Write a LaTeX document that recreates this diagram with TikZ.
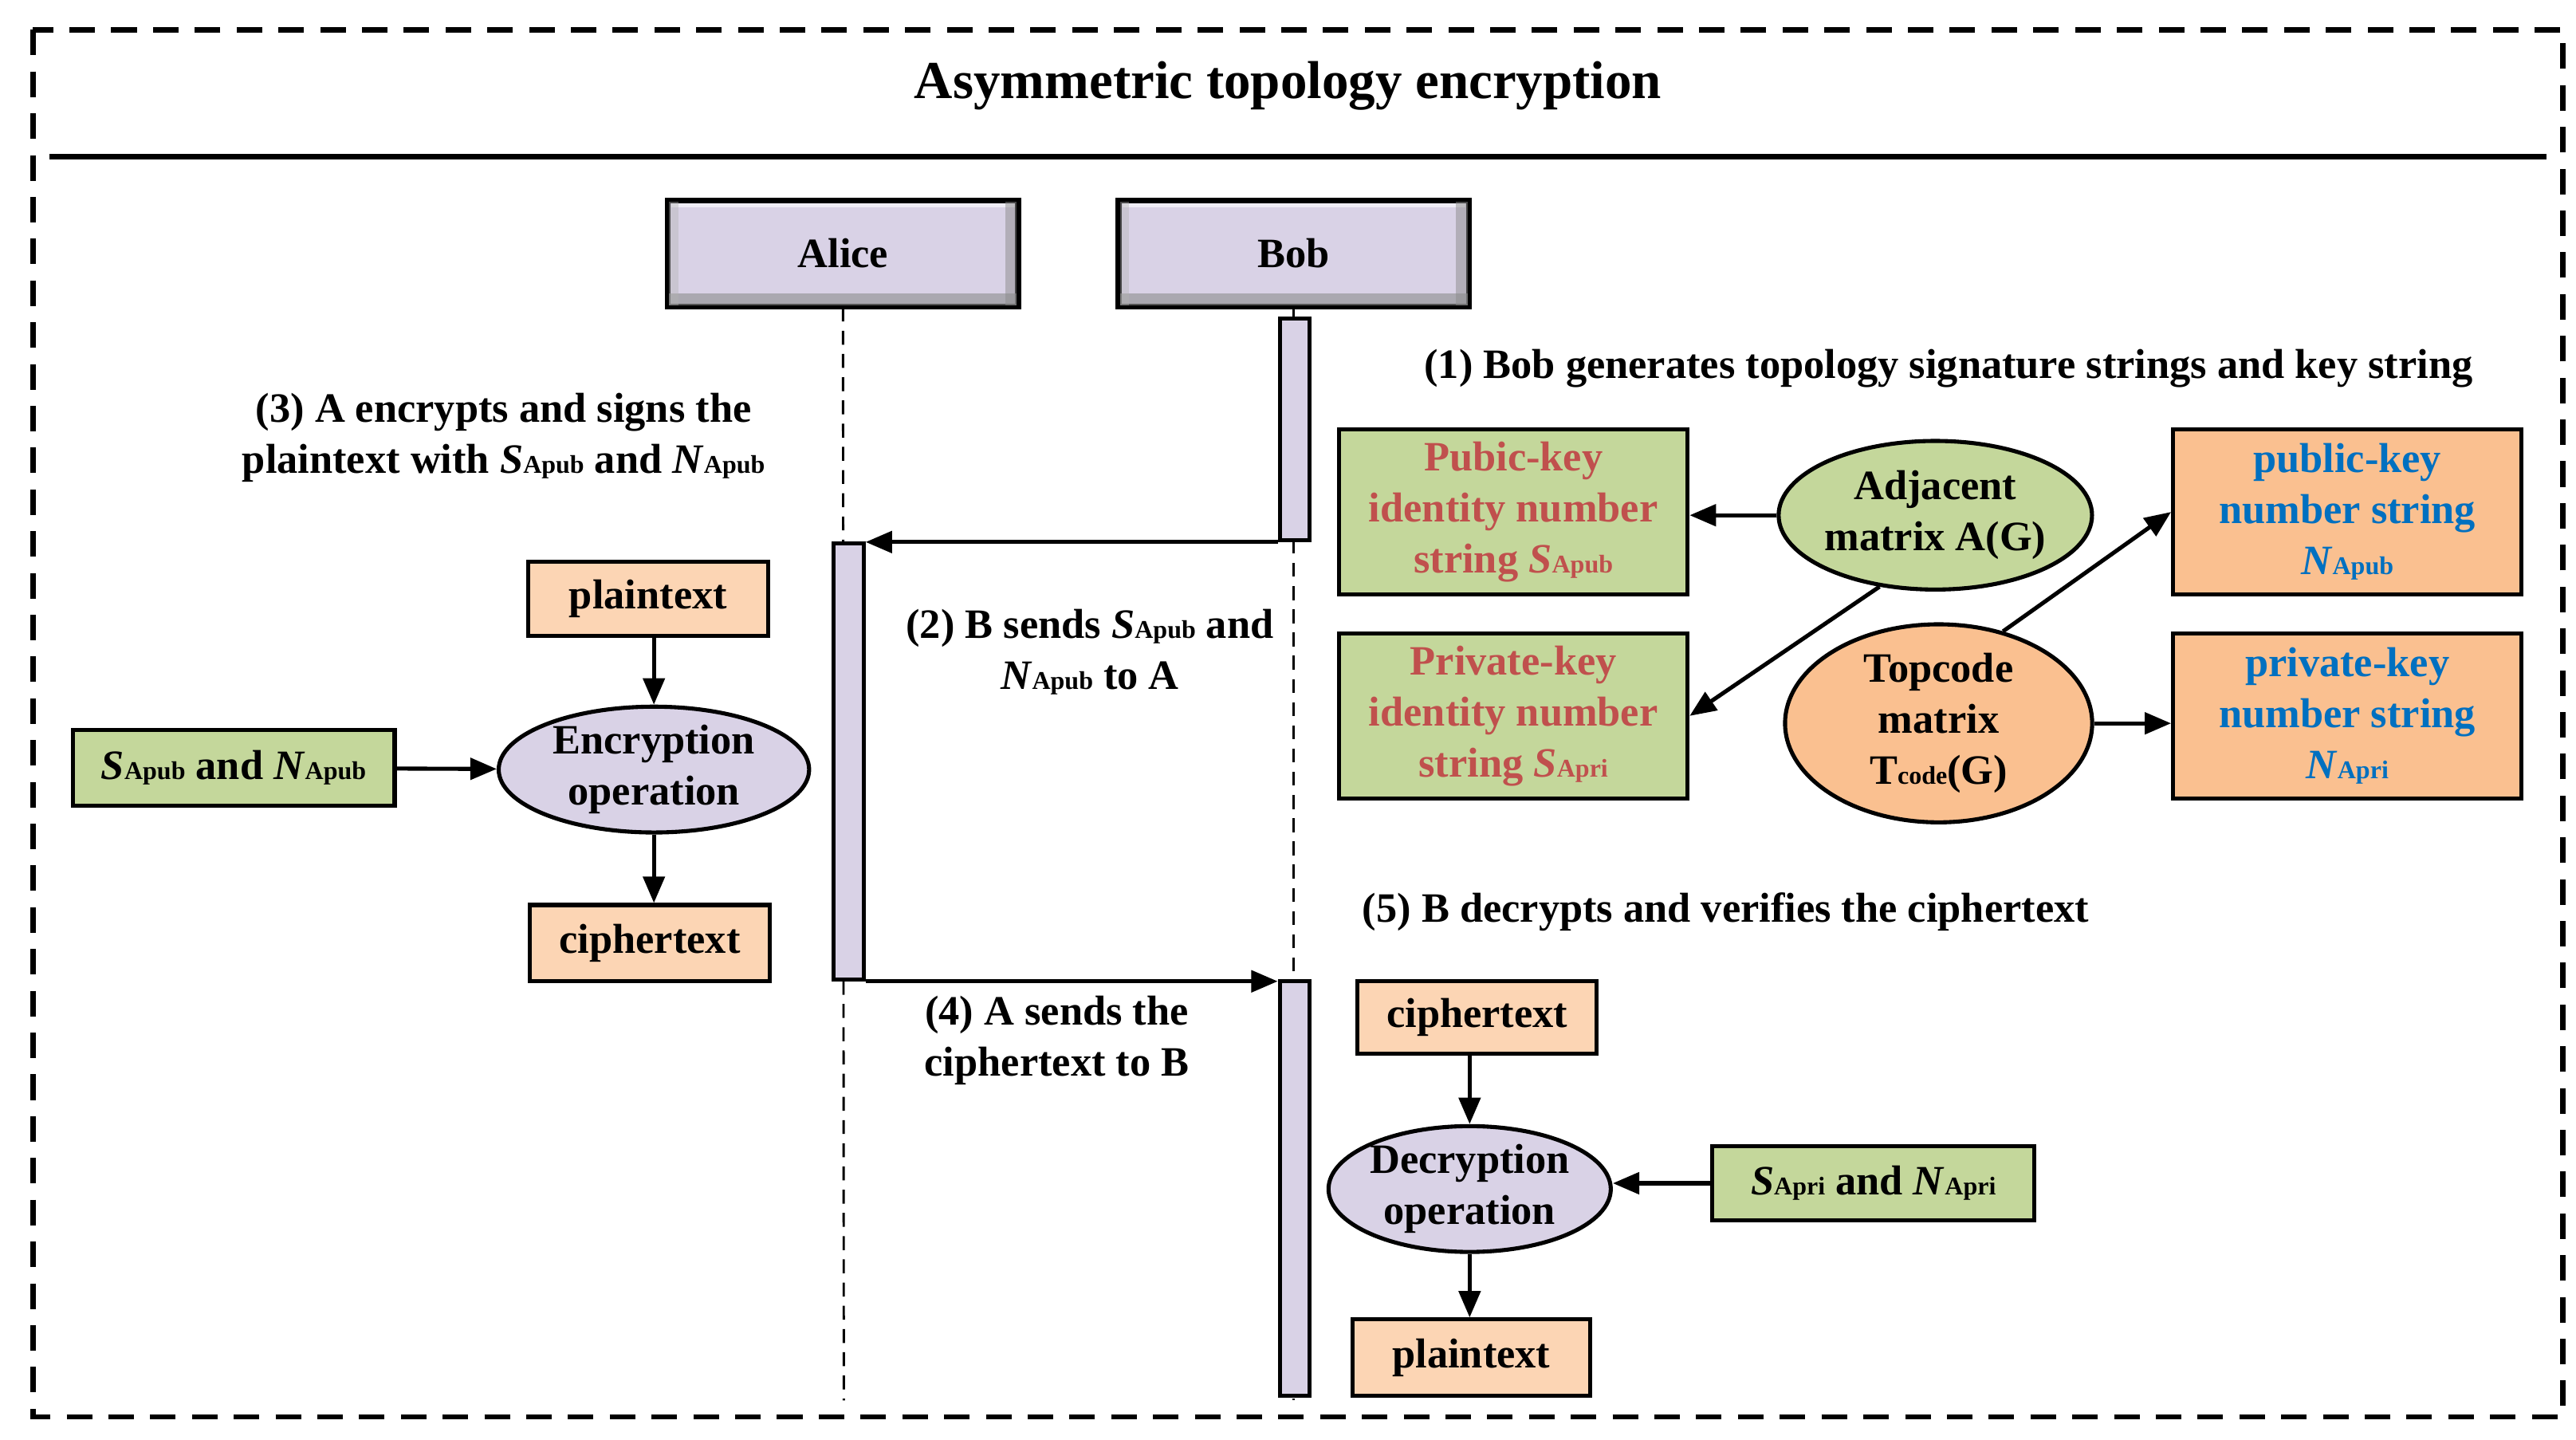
\documentclass[tikz,border=0pt]{standalone}
\usepackage{fontspec}
\setmainfont{Liberation Serif}
\usetikzlibrary{arrows.meta,shapes.geometric}
\definecolor{gr}{RGB}{196,215,155}
\definecolor{pe}{RGB}{252,213,180}
\definecolor{og}{RGB}{250,192,144}
\definecolor{lav}{RGB}{217,210,230}
\definecolor{rd}{RGB}{192,80,77}
\definecolor{bl}{RGB}{0,112,192}
\newcommand\sk[2]{\textit{#1}{\fontsize{22}{22}\selectfont #2}}
\begin{document}
\begin{tikzpicture}[x=0.05cm,y=-0.05cm,
  every node/.style={font=\fontsize{36}{44}\selectfont\bfseries, align=center, inner sep=0pt},
  box/.style={draw, line width=3.5pt, rectangle},
  gbox/.style={box, fill=gr},
  pbox/.style={box, fill=pe},
  obox/.style={box, fill=og},
  ell/.style={draw, line width=3.5pt, ellipse},
  actor/.style={draw, line width=3.5pt, fill=lav, minimum width=10.55cm, minimum height=3.15cm},
  bar/.style={draw, line width=3.5pt, fill=lav, minimum width=0.9cm},
  arr/.style={line width=3.5pt, -{Triangle[length=0.8cm,width=0.65cm]}},
  life/.style={line width=2pt, dash pattern=on 12pt off 8pt}]
\useasboundingbox (0,0) rectangle (1560,871.5);
\draw[line width=4.5pt, dash pattern=on 22pt off 14pt] (20,18) rectangle (1552,858);
\draw[line width=5pt] (30,95) -- (1542,95);
\node[font=\fontsize{46}{50}\selectfont\bfseries] (title) at (780,52) {Asymmetric topology encryption};
% actors
\node[actor] (alice) at (510.5,153.5) {Alice};
\node[actor] (bob) at (783.5,153.5) {Bob};
\foreach \n in {alice,bob}{
  \draw[white, line width=4pt, opacity=0.6] ([shift={(4pt,-5pt)}]\n.north west) -- ([shift={(-4pt,-5pt)}]\n.north east);
  \fill[black!45, opacity=0.6] ([shift={(2pt,2pt)}]\n.south west) rectangle ([shift={(-2pt,12pt)}]\n.south east);
  \fill[black!45, opacity=0.5] ([shift={(-12pt,-2pt)}]\n.north east) rectangle ([shift={(-2pt,2pt)}]\n.south east);
  \fill[black!30, opacity=0.4] ([shift={(2pt,-2pt)}]\n.north west) rectangle ([shift={(10pt,2pt)}]\n.south west);
  \draw[line width=3.5pt] (\n.north west) rectangle (\n.south east);
}
\coordinate (aend) at (511,848);
\draw[life] (alice.south) -- (aend);
\draw[life] (bob.south) -- (bob.south |- aend);
\node[bar, minimum height=6.7cm] (bb1) at (784,260) {};
\node[bar, minimum height=13.2cm] (ab) at (514,461) {};
\node[bar, minimum height=12.55cm] (bb2) at (784,719.5) {};
\draw[arr] (bb1.south west) -- (bb1.south west -| ab.east);
\draw[arr] (ab.south east) -- (ab.south east -| bb2.west);
\node (l2) at (660,395) {(2) B sends \sk{S}{Apub} and\\\sk{N}{Apub} to A};
\node (l4) at (640,630) {(4) A sends the\\ciphertext to B};
% left side
\node (l3) at (305,265) {(3) A encrypts and signs the\\plaintext with \sk{S}{Apub} and \sk{N}{Apub}};
\node[pbox, minimum width=7.25cm, minimum height=2.25cm] (pt1) at (392.5,362.5) {plaintext};
\node[ell, fill=lav, minimum width=9.4cm, minimum height=3.5cm] (enc) at (396,466) {Encryption\\operation};
\node[pbox, minimum width=7.25cm, minimum height=2.3cm] (ct1) at (393.5,571) {ciphertext};
\node[gbox, minimum width=9.75cm, minimum height=2.3cm] (s1) at (141.5,465) {\sk{S}{Apub} and \sk{N}{Apub}};
\draw[arr] (pt1.south -| enc.north) -- (enc.north);
\draw[arr] (enc.south) -- (enc.south |- ct1.north);
\draw[arr] (s1) -- (enc);
% right upper
\node (l1) at (1180,223) {(1) Bob generates topology signature strings and key string};
\node[gbox, text=rd, minimum width=10.55cm, minimum height=5cm] (pub) at (916.5,310) {Pubic-key\\identity number\\string \sk{S}{Apub}};
\node[gbox, text=rd, minimum width=10.55cm, minimum height=5cm] (pri) at (916.5,433.5) {Private-key\\identity number\\string \sk{S}{Apri}};
\node[obox, text=bl, minimum width=10.55cm, minimum height=5cm] (npub) at (1421.5,310) {public-key\\number string\\\sk{N}{Apub}};
\node[obox, text=bl, minimum width=10.55cm, minimum height=5cm] (npri) at (1421.5,433.5) {private-key\\number string\\\sk{N}{Apri}};
\node[ell, fill=gr, minimum width=9.3cm, minimum height=4.5cm] (adj) at (1172,312) {Adjacent\\matrix A(G)};
\node[ell, fill=og, minimum width=9.3cm, minimum height=4.7cm] (top) at (1174,438) {Topcode\\matrix\\T{\fontsize{22}{22}\selectfont code}(G)};
\draw[arr] (adj.west) -- (pub.east |- adj.west);
\draw[arr] (adj.-128) -- (pri.east);
\draw[arr] (top.55) -- (npub.west);
\draw[arr] (top.east) -- (npri.west |- top.east);
% right lower
\node (l5) at (1045,552) {(5) B decrypts and verifies the ciphertext};
\node[pbox, minimum width=7.25cm, minimum height=2.2cm] (ct2) at (894.5,616) {ciphertext};
\node[ell, fill=lav, minimum width=8.3cm, minimum height=3.5cm] (dec) at (890,720) {Decryption\\operation};
\node[pbox, minimum width=7.2cm, minimum height=2.3cm] (pt2) at (891,822) {plaintext};
\node[gbox, minimum width=9.75cm, minimum height=2.25cm] (s2) at (1134.5,716.5) {\sk{S}{Apri} and \sk{N}{Apri}};
\draw[arr] (ct2.south -| dec.north) -- (dec.north);
\draw[arr] (dec.south) -- (dec.south |- pt2.north);
\draw[arr] (s2.west) -- (dec.east |- s2.west);
\end{tikzpicture}
\end{document}
